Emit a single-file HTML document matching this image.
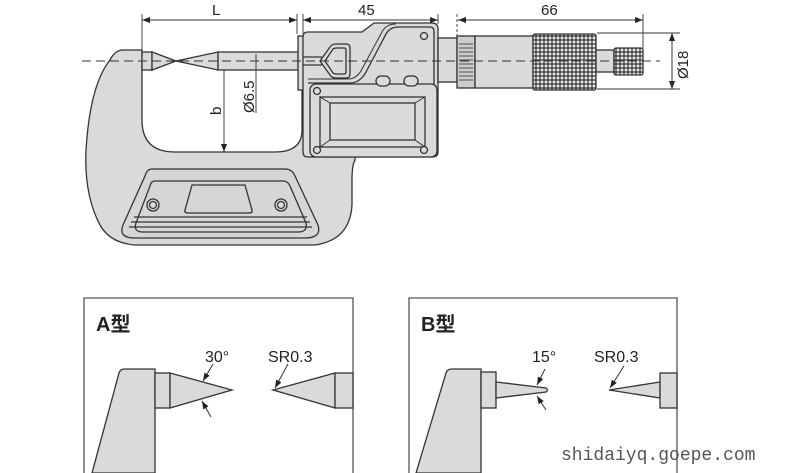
<!DOCTYPE html>
<html><head><meta charset="utf-8"><style>
html,body{margin:0;padding:0;background:#fff;}
svg{display:block;}
text{font-family:"Liberation Sans","Noto Sans CJK SC",sans-serif;fill:#222;}
</style></head><body>
<svg width="790" height="473" viewBox="0 0 790 473" xmlns="http://www.w3.org/2000/svg">
<defs>
<pattern id="kn" width="4" height="4" patternUnits="userSpaceOnUse">
<rect width="4" height="4" fill="#444"/><circle cx="2" cy="2" r="1.5" fill="#e6e6e6"/>
</pattern>
<marker id="ar" markerWidth="8" markerHeight="6" refX="8" refY="3" orient="auto" markerUnits="userSpaceOnUse"><path d="M0,0L8,3L0,6z" fill="#222"/></marker>
</defs>
<g stroke="#333" stroke-width="1.3" fill="#dadada">
<!-- frame -->
<path d="M123,50 L142,50 L142,68 L142,120 Q142,152 175,152 L275,152 Q302,152 302,130 L302,60 L355,60 L355,160 Q352,165 352,180 L352,205 Q350,240 315,245 L135,245 Q110,243 100,225 Q84,195 86,150 Q90,85 110,60 Q115,50 123,50 Z"/>
<!-- grip -->
<path d="M152,169 L285,169 Q292,169 295,176 L318,225 Q322,238 305,238 L135,238 Q118,238 123,225 L145,176 Q147,169 152,169 Z" fill="#d6d6d6"/>
<path d="M155,181 L283,181 Q288,181 290,186 L306,223 Q308,232 298,232 L143,232 Q133,232 136,223 L150,186 Q151,181 155,181 Z" fill="#d6d6d6"/>
<path d="M192,185 L245,185 L252,210 Q253,213 249,213 L188,213 Q184,213 185,210 Z" fill="#d6d6d6"/>
<line x1="134" y1="217" x2="307" y2="217"/><line x1="131" y1="222" x2="310" y2="222"/><line x1="129" y1="227" x2="312" y2="227"/>
<circle cx="153" cy="205" r="6"/><circle cx="153" cy="205" r="3.5"/>
<circle cx="281" cy="205" r="6"/><circle cx="281" cy="205" r="3.5"/>
<!-- anvil & spindle -->
<rect x="142" y="52" width="10" height="18"/>
<path d="M152,52 L152,70 L176,61 Z"/>
<path d="M176,61 L218,52 L218,70 Z"/>
<rect x="218" y="52" width="80" height="18"/>
<!-- body -->
<rect x="298" y="36" width="6" height="54"/>
<path d="M303,37 Q303,32 308,32 L362,32 L374,23 L432,23 Q438,23 438,29 L438,152 Q438,157 432,157 L308,157 Q303,157 303,152 Z"/>
<path d="M303,57 L322,57 M303,65 L322,65" fill="none"/>
<path d="M320,61 L330,47 Q332,44 336,44 L346,44 Q350,44 350,48 L350,74 Q350,78 346,78 L336,78 Q332,78 330,75 Z"/>
<path d="M325,61 L333,49 Q334,48 337,48 L344,48 Q346,48 346,50 L346,72 Q346,74 344,74 L337,74 Q334,74 333,73 Z"/>
<path d="M308,83 L350,83 Q360,83 366,72 L386,34 Q390,27 398,27 L430,27 Q434,27 434,31 L434,152" fill="none"/>
<path d="M308,79 L348,79 Q357,79 362,69 L382,32 Q386,24 396,24" fill="none" stroke-width="1"/>
<rect x="310" y="84" width="127" height="73" rx="6"/>
<rect x="320" y="97" width="105" height="50"/>
<rect x="330" y="103" width="85" height="37"/>
<path d="M320,97 L330,103 M425,97 L415,103 M320,147 L330,140 M425,147 L415,140" fill="none" stroke-width="1"/>
<circle cx="424" cy="36" r="3.5"/><circle cx="317" cy="91" r="3.5"/><circle cx="317" cy="150" r="3.5"/><circle cx="424" cy="150" r="3.5"/>
<rect x="376" y="76" width="14" height="10" rx="5"/><rect x="404" y="76" width="14" height="10" rx="5"/>
<!-- micrometer head -->
<rect x="438" y="38" width="19" height="44"/>
<rect x="457" y="36" width="18" height="52" fill="#ccc"/>
<g stroke-width="0.8"><line x1="459" y1="44" x2="473" y2="44"/><line x1="459" y1="48" x2="473" y2="48"/><line x1="459" y1="52" x2="473" y2="52"/><line x1="459" y1="56" x2="473" y2="56"/><line x1="459" y1="60" x2="473" y2="60"/><line x1="459" y1="64" x2="473" y2="64"/><line x1="459" y1="68" x2="473" y2="68"/><line x1="459" y1="72" x2="473" y2="72"/><line x1="459" y1="76" x2="473" y2="76"/><line x1="459" y1="80" x2="473" y2="80"/></g>
<rect x="475" y="36" width="58" height="52"/>
<rect x="533" y="34" width="63" height="56" rx="2" fill="url(#kn)"/>
<rect x="596" y="50" width="18" height="22"/>
<rect x="614" y="48" width="29" height="27" rx="2" fill="url(#kn)"/>
</g>
<!-- centerline -->
<line x1="82" y1="61" x2="660" y2="61" stroke="#333" stroke-width="1" stroke-dasharray="9,5"/>
<!-- dimensions -->
<g stroke="#333" stroke-width="0.9" fill="none">
<line x1="142" y1="14" x2="142" y2="50"/><line x1="297" y1="14" x2="297" y2="34"/>
<line x1="297" y1="20" x2="142" y2="20" marker-end="url(#ar)"/><line x1="142" y1="20" x2="297" y2="20" marker-end="url(#ar)"/>
<line x1="303" y1="14" x2="303" y2="34"/><line x1="438" y1="14" x2="438" y2="24"/>
<line x1="303" y1="20" x2="438" y2="20" marker-end="url(#ar)"/><line x1="438" y1="20" x2="303" y2="20" marker-end="url(#ar)"/>
<line x1="457" y1="14" x2="457" y2="36" stroke-dasharray="3,2"/><line x1="643" y1="14" x2="643" y2="48"/>
<line x1="458" y1="20" x2="643" y2="20" marker-end="url(#ar)"/><line x1="643" y1="20" x2="458" y2="20" marker-end="url(#ar)"/>
<line x1="597" y1="33" x2="680" y2="33"/><line x1="597" y1="89" x2="680" y2="89"/>
<line x1="672" y1="33" x2="672" y2="89" marker-end="url(#ar)"/><line x1="672" y1="89" x2="672" y2="33" marker-end="url(#ar)"/>
<line x1="224" y1="70" x2="224" y2="152" marker-end="url(#ar)"/>
<line x1="256" y1="54" x2="256" y2="113"/>
</g>
<text x="212" y="15" font-size="15">L</text>
<text x="358" y="15" font-size="15">45</text>
<text x="541" y="15" font-size="15">66</text>
<text font-size="15" transform="translate(688,79) rotate(-90)">Ø18</text>
<text font-size="15" transform="translate(221,115) rotate(-90)">b</text>
<text font-size="15" transform="translate(254,113) rotate(-90)">Ø6.5</text>
<!-- panels -->
<g stroke="#555" stroke-width="1.3" fill="none">
<polyline points="84,473 84,298 353,298 353,473"/>
<polyline points="409,473 409,298 677,298 677,473"/>
</g>
<text x="96" y="331" font-size="20" font-weight="bold">A型</text>
<text x="421" y="331" font-size="20" font-weight="bold">B型</text>
<g stroke="#333" stroke-width="1.3" fill="#dadada">
<path d="M92,473 L119,373 Q120,369 125,369 L155,369 L155,473 Z"/>
<rect x="155" y="373" width="15" height="35"/>
<path d="M170,373 L232,390 L170,408 Z"/>
<path d="M273,390 L335,373 L335,408 Z"/>
<rect x="335" y="373" width="18" height="35"/>
<path d="M416,473 L446,373 Q447,369 452,369 L481,369 L481,473 Z"/>
<rect x="481" y="372" width="15" height="36"/>
<path d="M496,382 L546,388 Q549,390 546,392 L496,398 Z"/>
<path d="M609,390 L660,382 L660,398 Z"/>
<rect x="660" y="373" width="17" height="35"/>
</g>
<text x="205" y="362" font-size="16">30°</text>
<text x="268" y="362" font-size="16">SR0.3</text>
<text x="532" y="362" font-size="16">15°</text>
<text x="594" y="362" font-size="16">SR0.3</text>
<g stroke="#222" stroke-width="0.9" fill="none">
<line x1="213" y1="364" x2="203" y2="381" marker-end="url(#ar)"/>
<line x1="211" y1="417" x2="202" y2="401" marker-end="url(#ar)"/>
<line x1="288" y1="364" x2="275" y2="388" marker-end="url(#ar)"/>
<line x1="545" y1="369" x2="537" y2="385" marker-end="url(#ar)"/>
<line x1="546" y1="410" x2="537" y2="396" marker-end="url(#ar)"/>
<line x1="624" y1="366" x2="610" y2="388" marker-end="url(#ar)"/>
</g>
<text x="561" y="460" font-size="18" style="font-family:'Liberation Mono',monospace;fill:#555">shidaiyq.goepe.com</text>
</svg>
</body></html>
